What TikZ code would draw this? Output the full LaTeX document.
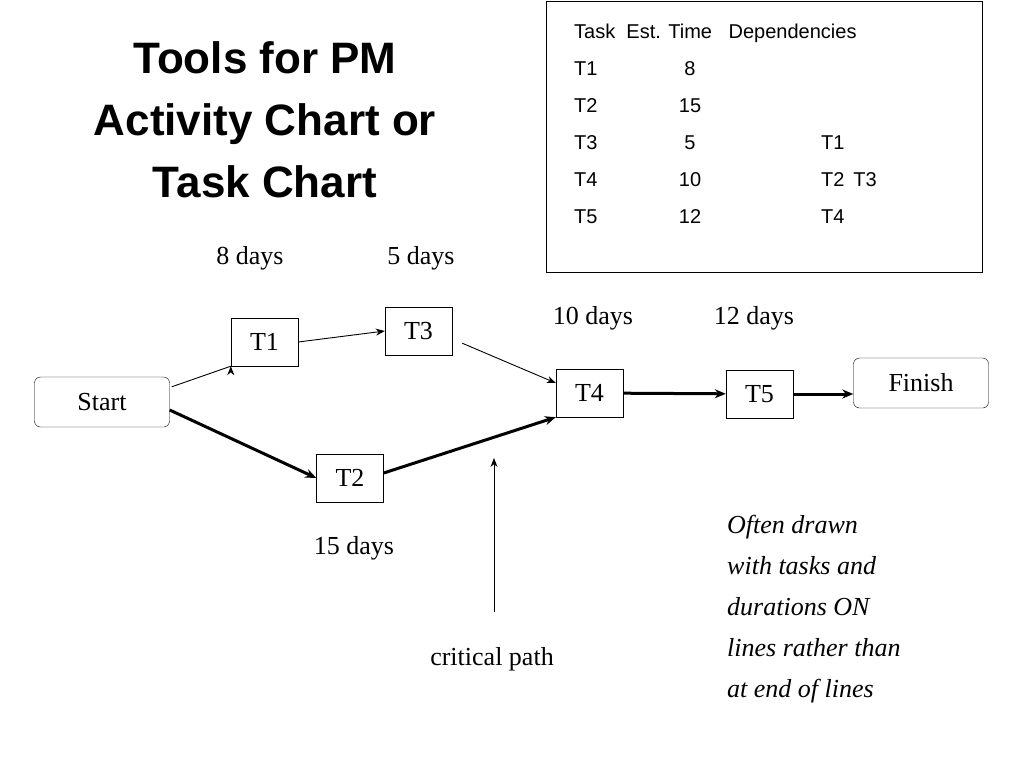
\documentclass[tikz,border=0pt]{standalone}
\usepackage{fontspec}
\setmainfont{Liberation Serif}
\newfontfamily\arial{Liberation Sans}
\usetikzlibrary{arrows.meta}
\begin{document}
\begin{tikzpicture}[x=1pt,y=-1pt,
  tbox/.style={draw,minimum width=67pt,minimum height=48pt,inner sep=0pt,font=\fontsize{26}{30}\selectfont},
  rbox/.style={tbox,rounded corners=6pt,minimum width=135pt,minimum height=50pt},
  thin/.style={-{Stealth[length=9pt,width=7pt]},line width=0.9pt},
  thick/.style={-{Stealth[length=11pt,width=9pt]},line width=3pt},
  lbl/.style={font=\fontsize{26}{30}\selectfont},
  tab/.style={anchor=base west,font=\arial\fontsize{20}{24}\selectfont,inner sep=0pt}]
\useasboundingbox (0,0) rectangle (1024,768);
\node[align=center,font=\arial\bfseries\fontsize{44}{62}\selectfont] (title) at (265,120) {Tools for PM\\Activity Chart or\\Task Chart};
\node[draw,line width=1pt,minimum width=436pt,minimum height=270pt,inner sep=0pt] (tbl) at (764,137) {};
\node[tab] (h) at (574,38) {Task\ \ Est. Time\ \ \ Dependencies};
\foreach \r/\n/\d [count=\i] in {T1/8/,T2/15/,T3/5/T1,T4/10/T2\, T3,T5/12/T4}{
  \node[tab] (r\i) at (574,38+37*\i) {\r};
  \node[anchor=base,font=\arial\fontsize{20}{24}\selectfont,inner sep=0pt] (n\i) at (690,38+37*\i) {\n};
  \node[tab] (d\i) at (821,38+37*\i) {\d};
}
\node[rbox] (start) at (102,402) {Start};
\node[tbox] (t1) at (264.5,342) {T1};
\node[tbox] (t3) at (418.5,331) {T3};
\node[tbox] (t2) at (350,478) {T2};
\node[tbox] (t4) at (589.5,393) {T4};
\node[tbox] (t5) at (759.5,394) {T5};
\node[rbox] (fin) at (921,383) {Finish};
\draw[thin] (start.north east) ++(2,10) -- (t1.south west) ++(0,0);
\draw[thin] (t1.east) -- (t3.west);
\draw[thin] (t3.south east) ++(10,-12) coordinate (a) -- (t4.west |- 0,383) ;
\draw[thick] (start.east) ++(0,8) -- (t2.west);
\draw[thick] (t2.east) ++(0,-5) -- (t4.south west);
\draw[thick] (t4) -- (t5);
\draw[thick] (t5) -- (fin.west |- t5);
\coordinate (cp) at (494,612);
\draw[thin] (cp) -- (494,458);
\node[lbl] (l1) at (250,258) {8 days};
\node[lbl] (l2) at (421,258) {5 days};
\node[lbl] (l3) at (593,318) {10 days};
\node[lbl] (l4) at (754,318) {12 days};
\node[lbl] (l5) at (354,548) {15 days};
\node[lbl] (l6) at (492,659) {critical path};
\node[anchor=north west,align=left,font=\itshape\fontsize{26}{41}\selectfont,inner sep=0pt] (note) at (727,515) {Often drawn\\with tasks and\\durations ON\\lines rather than\\at end of lines};
\end{tikzpicture}
\end{document}
